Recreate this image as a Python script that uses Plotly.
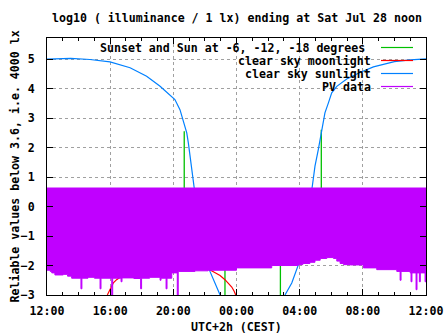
import plotly.graph_objects as go

# ---- data (hours after 12:00 on Jul 27, log10 lux) ----
x_tick_vals = [0, 4, 8, 12, 16, 20, 24]
x_tick_text = ["12:00", "16:00", "20:00", "00:00", "04:00", "08:00", "12:00"]
y_tick_vals = [-3, -2, -1, 0, 1, 2, 3, 4, 5]

sun_t = [0.0, 1.5, 2.72, 3.99, 5.26, 6.31, 7.16, 7.79, 8.1, 8.42, 8.63, 8.85, 8.95,
         9.06, 9.16, 9.27, 9.5, 9.75, 10.0, 10.32, 10.64, 10.96,
         None,
         15.07, 15.5, 15.92, 16.2, 16.5, 16.8, 16.97, 17.18, 17.4, 17.6, 17.82,
         18.03, 18.35, 18.98, 19.82, 20.67, 22.0, 23.0, 24.0]
sun_v = [5.00, 5.03, 4.99, 4.91, 4.71, 4.42, 4.08, 3.80, 3.63, 3.29, 2.90, 2.50, 2.16,
         1.71, 1.26, 0.80, -0.10, -0.90, -1.55, -2.20, -2.59, -3.00,
         None,
         -3.00, -2.59, -1.97, -1.20, -0.30, 0.69, 1.37, 1.93, 2.61, 3.18, 3.52,
         3.86, 4.08, 4.33, 4.55, 4.74, 4.92, 4.98, 5.01]

moon_t = [3.82, 4.0, 4.2, 4.41, 5.0, 6.0, 7.5, 9.0, 10.0, 10.39, 10.64, 10.96,
          11.27, 11.48, 11.7, 11.86, 11.95]
moon_v = [-3.0, -2.79, -2.59, -2.48, -2.25, -2.0, -1.85, -1.95, -2.08, -2.17, -2.25,
          -2.34, -2.48, -2.59, -2.73, -2.88, -3.0]

event_t = [8.69, 11.27, 14.78, 17.37]        # sunset, -18, -18, sunrise
event_top = [2.56, -2.0, -2.0, 2.61]
event_bottom = [-1.0, -3.0, -3.0, -1.0]

pv_low_t = [0.0, 0.2, 0.3, 0.5, 1.03, 1.3, 1.56, 2.15, 2.21, 2.6, 3.0, 3.36, 3.42,
            4.1, 4.16, 4.69, 4.75, 5.5, 5.93, 5.99, 6.5, 7.16, 7.22, 7.54, 7.6,
            7.9, 8.25, 8.31, 9.37, 10.2, 12.0, 14.23, 15.9, 16.2, 16.65, 16.97,
            17.3, 17.72, 18.14, 18.35, 18.56, 18.78, 19.2, 20.04, 20.88, 22.15,
            22.36, 22.42, 23.0, 23.05, 23.11, 23.37, 23.43, 23.58, 23.64, 23.94, 24.0]
pv_low_v = [-2.16, -2.2, -2.25, -2.32, -2.3, -2.36, -2.43, -2.79, -2.43, -2.4, -2.43,
            -2.79, -2.43, -3.0, -2.43, -2.55, -2.42, -2.44, -2.79, -2.43, -2.4, -2.5,
            -2.43, -2.79, -2.43, -2.25, -3.0, -2.2, -2.18, -2.16, -2.08, -2.0, -1.97,
            -1.93, -1.89, -1.82, -1.76, -1.73, -1.76, -1.85, -1.93, -1.97, -1.98,
            -2.08, -2.14, -2.2, -2.5, -2.2, -2.25, -2.55, -2.25, -2.82, -2.25, -2.55,
            -2.25, -2.55, -2.25]
pv_high_t = [0.0, 24.0]
pv_high_v = [0.63, 0.63]

legend_labels = ["Sunset and Sun at -6, -12, -18 degrees", "clear sky moonlight",
                 "clear sky sunlight", "PV data"]

GREEN, RED, BLUE, PURPLE = "#00c000", "#ff0000", "#0080ff", "#c000ff"
FONT = dict(family="DejaVu Sans Mono", size=11.6, color="black", weight="bold")

# ---- figure ----
W, H = 447, 335
L, R, T, B = 47, 21, 38, 40
PW, PH = W - L - R, H - T - B
def px_x(p): return (p - L) / PW
def px_y(p): return (H - B - p) / PH

fig = go.Figure()

ev_x, ev_y = [], []
for t, top, bot in zip(event_t, event_top, event_bottom):
    ev_x += [t, t, None]
    ev_y += [bot, top, None]
fig.add_trace(go.Scatter(x=ev_x, y=ev_y, mode="lines", line=dict(color=GREEN, width=1.3)))
fig.add_trace(go.Scatter(x=moon_t, y=moon_v, mode="lines", line=dict(color=RED, width=1.2)))
fig.add_trace(go.Scatter(x=sun_t, y=sun_v, mode="lines", line=dict(color=BLUE, width=1.2),
                         connectgaps=False))
fig.add_trace(go.Scatter(x=pv_low_t, y=pv_low_v, mode="lines", line_shape="hv",
                         line=dict(color=PURPLE, width=1)))
fig.add_trace(go.Scatter(x=pv_high_t, y=pv_high_v, mode="lines", line_shape="hv",
                         line=dict(color=PURPLE, width=1), fill="tonexty",
                         fillcolor=PURPLE))

axis_common = dict(showline=True, linecolor="black", linewidth=1, mirror="ticks",
                   ticks="inside", ticklen=6, tickcolor="black", tickwidth=1,
                   showgrid=True, gridcolor="#a0a0a0", griddash="dot", gridwidth=1,
                   zeroline=False, tickfont=FONT, automargin=False)
fig.update_xaxes(range=[0, 24], tickvals=x_tick_vals, ticktext=x_tick_text,
                 minor=dict(dtick=1, tick0=0, ticks="inside", ticklen=3,
                            tickcolor="black", showgrid=False),
                 ticklabelstandoff=5, **axis_common)
fig.update_yaxes(range=[-3, 5.72], tickvals=y_tick_vals, ticklabelstandoff=9,
                 **axis_common)

ann = [
    dict(text="log10 ( illuminance / 1 lx) ending at Sat Jul 28 noon", x=px_x(237), y=px_y(17.5),
         xanchor="center", yanchor="middle"),
    dict(text="UTC+2h (CEST)", x=px_x(236), y=px_y(327), xanchor="center", yanchor="middle"),
    dict(text="Reliable values below 3.6, i.e. 4000 lx", x=px_x(14), y=0.5,
         xanchor="center", yanchor="middle", textangle=-90),
]
leg_colors = [GREEN, RED, BLUE, PURPLE]
leg_rows = [48, 61, 74, 87]
leg_right = [367, 373, 373, 373]
shapes = []
for lab, col, ry, rx in zip(legend_labels, leg_colors, leg_rows, leg_right):
    ann.append(dict(text=lab, x=px_x(rx), y=px_y(ry), xanchor="right", yanchor="middle"))
    shapes.append(dict(type="line", xref="paper", yref="paper", x0=px_x(381), x1=px_x(413),
                       y0=px_y(ry - 0.5), y1=px_y(ry - 0.5), line=dict(color=col, width=1.2)))
for a in ann:
    a.update(xref="paper", yref="paper", showarrow=False, font=FONT)

fig.update_layout(width=W, height=H, margin=dict(l=L, r=R, t=T, b=B),
                  plot_bgcolor="white", paper_bgcolor="white", showlegend=False,
                  annotations=ann, shapes=shapes)

fig.write_html("out.html")
